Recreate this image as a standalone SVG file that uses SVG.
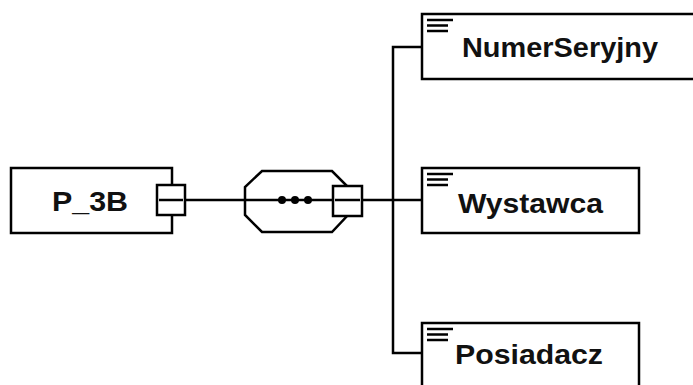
<svg xmlns="http://www.w3.org/2000/svg" width="693" height="385" viewBox="0 0 693 385">
<defs>
<style>
.box{fill:#fff;stroke:#000;stroke-width:2.5}
.ln{fill:none;stroke:#000;stroke-width:2.5}
.ic{stroke:#000;stroke-width:2.5}
.t{font-family:"Liberation Sans",Arial,sans-serif;font-weight:bold;font-size:28px;fill:#111}
</style>
<g id="icon">
<line class="ic" x1="427" y1="0" x2="453" y2="0"/>
<line class="ic" x1="427" y1="5.5" x2="448" y2="5.5"/>
<line class="ic" x1="427" y1="11" x2="448" y2="11"/>
</g>
</defs>
<rect width="693" height="385" fill="#fff"/>
<g id="connectors">
<line class="ln" x1="172" y1="200" x2="393" y2="200"/>
<polyline class="ln" points="422,47 393,47 393,353 422,353"/>
<line class="ln" x1="393" y1="200" x2="422" y2="200"/>
</g>
<g id="P_3B">
<rect class="box" x="11" y="168" width="161" height="65"/>
<text class="t" x="52" y="211" textLength="76" lengthAdjust="spacingAndGlyphs">P_3B</text>
<rect class="box" x="157" y="185" width="28" height="30"/>
<line class="ln" x1="159" y1="200" x2="183" y2="200"/>
</g>
<g id="sequence">
<polygon class="box" points="262,171 332,171 348,187 348,215 332,232 262,232 245,215 245,187"/>
<line class="ln" x1="245" y1="200" x2="333" y2="200"/>
<circle cx="282" cy="200" r="4" fill="#000"/>
<circle cx="295" cy="200" r="4" fill="#000"/>
<circle cx="308" cy="200" r="4" fill="#000"/>
<rect class="box" x="333" y="186" width="29" height="30"/>
<line class="ln" x1="335" y1="200" x2="360" y2="200"/>
</g>
<g id="NumerSeryjny">
<rect class="box" x="422" y="14" width="290" height="65"/>
<use href="#icon" y="20"/>
<text class="t" x="462" y="57" textLength="196" lengthAdjust="spacingAndGlyphs">NumerSeryjny</text>
</g>
<g id="Wystawca">
<rect class="box" x="422" y="168" width="217" height="65"/>
<use href="#icon" y="174"/>
<text class="t" x="458" y="213" textLength="145" lengthAdjust="spacingAndGlyphs">Wystawca</text>
</g>
<g id="Posiadacz">
<rect class="box" x="422" y="323" width="217" height="80"/>
<use href="#icon" y="329"/>
<text class="t" x="455" y="364" textLength="148" lengthAdjust="spacingAndGlyphs">Posiadacz</text>
</g>
</svg>
